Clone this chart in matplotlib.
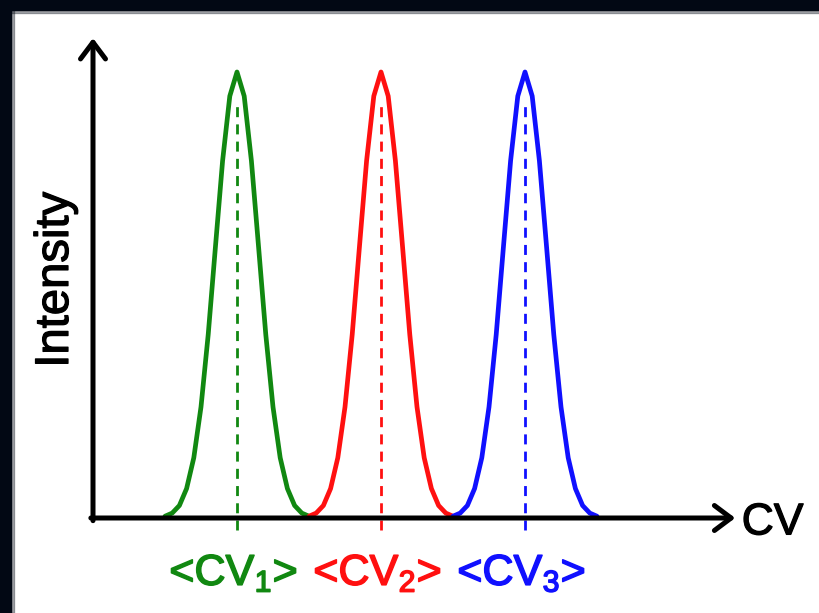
import matplotlib
matplotlib.use("Agg")
import matplotlib.pyplot as plt
import matplotlib.patheffects as pe
from matplotlib.patches import Rectangle

# Peak positions (CV units) and colours
peak_centers = [2.0, 4.0, 6.0]
peak_colors = ['#118811', '#ff1010', '#1010ff']
peak_labels = [r'<$\mathregular{CV_1}$>', r'<$\mathregular{CV_2}$>', r'<$\mathregular{CV_3}$>']

# Sampled peak profile (offset from centre, normalised intensity)
profile_offsets = [-1.0, -0.9, -0.8, -0.7, -0.6, -0.5, -0.4, -0.3, -0.2, -0.1, 0.0,
                   0.1, 0.2, 0.3, 0.4, 0.5, 0.6, 0.7, 0.8, 0.9, 1.0]
profile_heights = [0.004, 0.011, 0.028, 0.066, 0.135, 0.249, 0.411, 0.607, 0.801, 0.946, 1.0,
                   0.946, 0.801, 0.607, 0.411, 0.249, 0.135, 0.066, 0.028, 0.011, 0.004]

x_axis_end = 8.92
y_axis_end = 1.076

plt.rcParams['font.family'] = ['Liberation Sans', 'DejaVu Sans']
plt.rcParams['mathtext.default'] = 'regular'

fig = plt.figure(figsize=(8.2, 6.13), dpi=100)
fig.patch.set_facecolor('white')
ax = fig.add_axes([0, 0, 1, 1])
ax.set_xlim(-93 / 72, (820 - 93) / 72)
ax.set_ylim(-95 / 446, 518 / 446)
ax.axis('off')

# Dark frame at top and left edges
navy = '#020814'
fig.patches.append(Rectangle((0, 1 - 10 / 613), 1, 10 / 613, transform=fig.transFigure,
                             color=navy, zorder=0))
fig.patches.append(Rectangle((0, 1 - 13 / 613), 1, 3 / 613, transform=fig.transFigure,
                             color=navy, alpha=0.35, zorder=0))
fig.patches.append(Rectangle((0, 0), 11 / 820, 1, transform=fig.transFigure,
                             color=navy, zorder=0))
fig.patches.append(Rectangle((11 / 820, 0), 3 / 820, 1, transform=fig.transFigure,
                             color=navy, alpha=0.35, zorder=0))

# Dashed lines at peak centres
for c, col in zip(peak_centers, peak_colors):
    ax.plot([c, c], [-0.027, 0.937], color=col, lw=2.0, linestyle=(0, (3.6, 2.6)), zorder=2)

# Peaks
for c, col in zip(peak_centers, peak_colors):
    xs = [c + o for o in profile_offsets]
    ax.plot(xs, profile_heights, color=col, lw=3.4, solid_joinstyle='round',
            solid_capstyle='round', zorder=3)

# Axes with arrows
arrow_kw = dict(arrowstyle='->, head_length=0.6, head_width=0.45', lw=3.6, color='black',
                shrinkA=0, shrinkB=0, mutation_scale=20, capstyle='round', joinstyle='round')
ax.annotate('', xy=(x_axis_end, 0), xytext=(-0.03, 0), arrowprops=arrow_kw, zorder=4)
ax.annotate('', xy=(0, y_axis_end), xytext=(0, -0.006), arrowprops=arrow_kw, zorder=4)

# Slightly heavier glyphs, like the source
def thick(col, w=0.9):
    return [pe.withStroke(linewidth=w, foreground=col)]

ax.text(9.01, -0.011, 'CV', fontsize=32, ha='left', va='center', path_effects=thick('black'))
ax.text(-0.514, 0.534, 'Intensity', fontsize=34, rotation=90, ha='center', va='center',
        path_effects=thick('black'))

for c, col, lab in zip(peak_centers, peak_colors, peak_labels):
    ax.text(c - 0.05, -0.150, lab, fontsize=31, color=col, ha='center', va='baseline',
            path_effects=thick(col, 1.1))

fig.savefig('out.png', dpi=100, facecolor='white')
